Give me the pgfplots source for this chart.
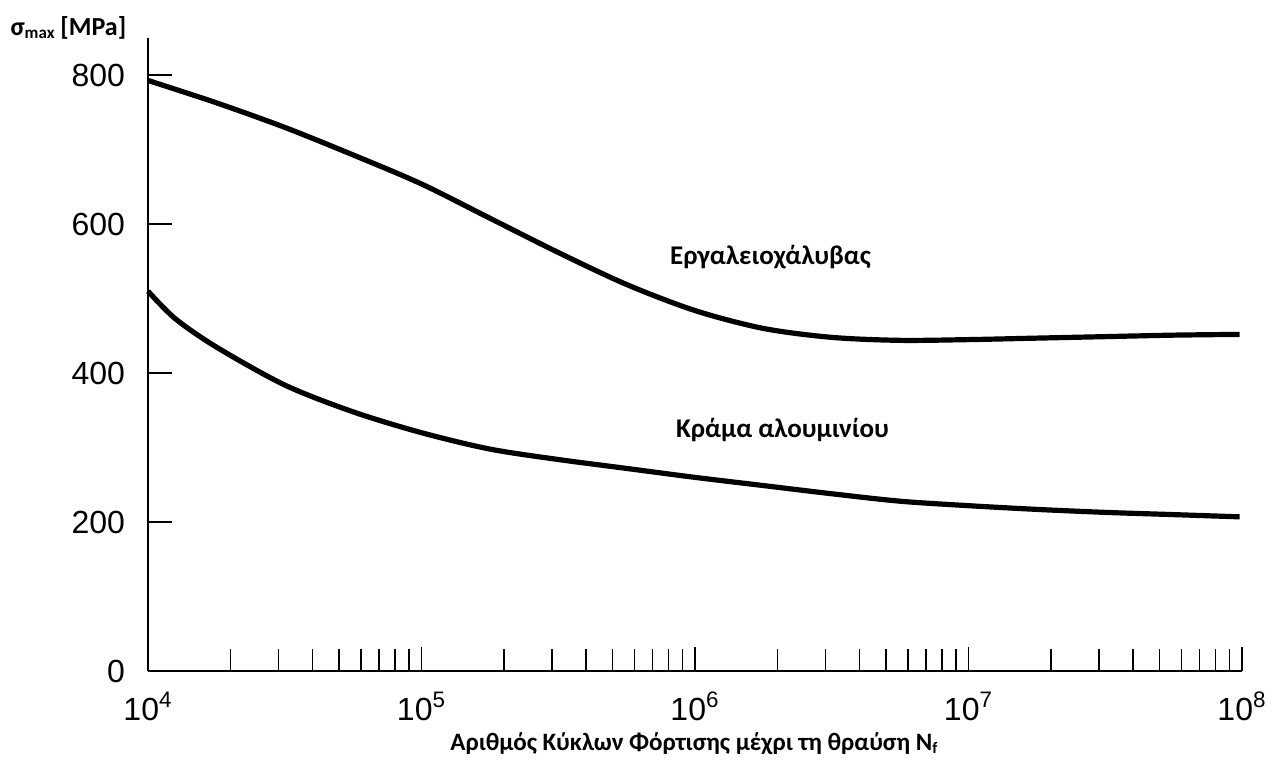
\documentclass[border=0pt]{standalone}
\usepackage{pgfplots}
\pgfplotsset{compat=1.18}
\usepackage{fontspec}
\setmainfont{Carlito}
\newfontfamily\tickfont{Liberation Sans}
\begin{document}
\begin{tikzpicture}
\begin{axis}[
  scale only axis, width=547pt, height=316.5pt,
  xmode=log, xmin=1e4, xmax=1e8, ymin=0, ymax=850,
  axis lines=left, axis line style={-, line width=1pt},
  tick align=inside, major tick length=12pt, minor tick length=11pt,
  every tick/.style={black, line width=0.8pt},
  xtick={1e4,1e5,1e6,1e7,1e8},
  xticklabels={10\textsuperscript{4},10\textsuperscript{5},10\textsuperscript{6},10\textsuperscript{7},10\textsuperscript{8}},
  ytick={0,200,400,600,800},
  yticklabels={0,200,400,600,800},
  xticklabel style={font=\tickfont\fontsize{16}{18}\selectfont, yshift=-7pt},
  yticklabel style={font=\tickfont\fontsize{16}{18}\selectfont, xshift=-8pt},
  clip=false,
]
% Εργαλειοχάλυβας
\addplot[black, line width=2.6pt, smooth] coordinates {
  (1e4,793) (1.7783e4,763) (3.1623e4,730) (5.6234e4,693) (1e5,654)
  (1.7783e5,608) (3.1623e5,562) (5.6234e5,519) (1e6,484) (1.7783e6,460)
  (3.1623e6,448) (5.6234e6,444) (1e7,445) (1.7783e7,447) (3.1623e7,449)
  (5.6234e7,451) (9.8e7,452)
};
% Κράμα αλουμινίου
\addplot[black, line width=2.6pt, smooth] coordinates {
  (1e4,510) (1.2589e4,473) (1.7783e4,435) (3.1623e4,384) (5.6234e4,348)
  (1e5,320) (1.7783e5,298) (3.1623e5,284) (5.6234e5,272) (1e6,260)
  (1.7783e6,249) (3.1623e6,238) (5.6234e6,228) (1e7,222) (1.7783e7,217)
  (3.1623e7,213) (5.6234e7,210) (9.8e7,207)
};
\node[font=\bfseries\fontsize{13.5}{15}\selectfont] at (rel axis cs:0.569,0.654) {Εργαλειοχάλυβας};
\node[font=\bfseries\fontsize{13.5}{15}\selectfont] at (rel axis cs:0.580,0.381) {Κράμα αλουμινίου};
\node[anchor=west, font=\bfseries\fontsize{13}{15}\selectfont, inner sep=0pt] at (rel axis cs:-0.126,1.016) {σ\raisebox{-0.25ex}{\fontsize{8.5}{9}\selectfont max} [MPa]};
\node[font=\bfseries\fontsize{12.5}{14}\selectfont] at (rel axis cs:0.499,-0.115) {Αριθμός Κύκλων Φόρτισης μέχρι τη θραύση N\raisebox{-0.25ex}{\fontsize{8}{9}\selectfont f}};
\end{axis}
\path (current axis.south west) ++(-74pt,-44.5pt) rectangle ++(640.5pt,380pt);
\end{tikzpicture}
\end{document}
